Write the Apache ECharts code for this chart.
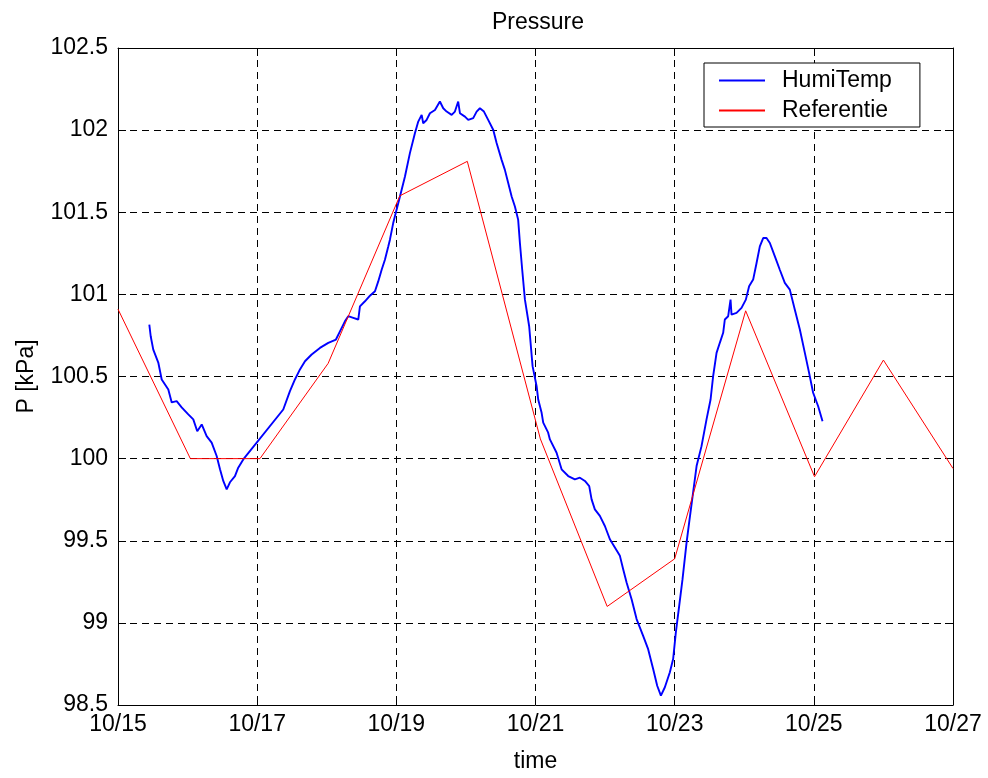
<!DOCTYPE html>
<html>
<head>
<meta charset="utf-8">
<title>Pressure</title>
<script src="https://cdn.jsdelivr.net/npm/echarts@6/dist/echarts.min.js"></script>
<style>
  html, body { margin: 0; padding: 0; background: #ffffff; }
  #chart { width: 988px; height: 778px; }
</style>
</head>
<body>
<div id="chart"></div>
<script>
// Time in days since 10/15, pressure in kPa
const xTickLabels = ['10/15', '10/17', '10/19', '10/21', '10/23', '10/25', '10/27'];

// HumiTemp sensor log
const humiTempDays = [
  0.450, 0.470, 0.507, 0.579, 0.628, 0.723, 0.772, 0.843, 0.915, 1.010,
  1.082, 1.139, 1.203, 1.274, 1.346, 1.418, 1.466, 1.513, 1.562, 1.609,
  1.681, 1.728, 1.800, 2.375, 2.471, 2.543, 2.615, 2.687, 2.783, 2.902,
  3.022, 3.132, 3.190, 3.261, 3.309, 3.381, 3.453, 3.477, 3.549, 3.621,
  3.693, 3.740, 3.789, 3.836, 3.884, 3.908, 3.955, 4.052, 4.124, 4.195,
  4.267, 4.315, 4.364, 4.386, 4.435, 4.483, 4.555, 4.626, 4.674, 4.723,
  4.795, 4.842, 4.889, 4.914, 4.986, 5.033, 5.105, 5.154, 5.201, 5.259,
  5.320, 5.392, 5.441, 5.513, 5.560, 5.608, 5.657, 5.704, 5.751, 5.776,
  5.809, 5.848, 5.909, 5.958, 6.016, 6.039, 6.088, 6.111, 6.182, 6.207,
  6.303, 6.375, 6.470, 6.566, 6.638, 6.710, 6.772, 6.806, 6.853, 6.925,
  6.997, 7.069, 7.141, 7.213, 7.260, 7.309, 7.381, 7.453, 7.547, 7.619,
  7.691, 7.749, 7.802, 7.859, 7.931, 7.978, 8.017, 8.065, 8.113, 8.171,
  8.208, 8.315, 8.386, 8.458, 8.516, 8.553, 8.602, 8.649, 8.697, 8.721,
  8.769, 8.803, 8.817, 8.889, 8.961, 9.023, 9.070, 9.128, 9.177, 9.224,
  9.272, 9.320, 9.368, 9.440, 9.511, 9.583, 9.655, 9.727, 9.799, 9.871,
  9.932, 9.990, 10.062, 10.125
];
const humiTempKpa = [
  100.816, 100.745, 100.664, 100.585, 100.482, 100.421, 100.342, 100.350, 100.312, 100.269,
  100.239, 100.167, 100.208, 100.137, 100.097, 100.016, 99.935, 99.864, 99.813, 99.856,
  99.894, 99.945, 99.995, 100.299, 100.411, 100.482, 100.543, 100.593, 100.634, 100.674,
  100.705, 100.725, 100.775, 100.836, 100.867, 100.857, 100.847, 100.927, 100.958, 100.992,
  101.019, 101.079, 101.150, 101.211, 101.292, 101.333, 101.434, 101.596, 101.718, 101.860,
  101.981, 102.052, 102.093, 102.042, 102.062, 102.103, 102.123, 102.174, 102.133, 102.113,
  102.093, 102.113, 102.174, 102.103, 102.082, 102.062, 102.073, 102.113, 102.133, 102.113,
  102.062, 102.002, 101.921, 101.819, 101.758, 101.678, 101.596, 101.535, 101.454, 101.313,
  101.150, 100.968, 100.806, 100.563, 100.441, 100.360, 100.279, 100.219, 100.158, 100.117,
  100.036, 99.935, 99.894, 99.874, 99.884, 99.864, 99.833, 99.752, 99.691, 99.651,
  99.590, 99.509, 99.459, 99.408, 99.327, 99.246, 99.144, 99.023, 98.921, 98.840,
  98.719, 98.617, 98.557, 98.608, 98.699, 98.780, 98.942, 99.104, 99.266, 99.489,
  99.611, 99.955, 100.076, 100.239, 100.360, 100.502, 100.644, 100.705, 100.766, 100.847,
  100.867, 100.968, 100.877, 100.887, 100.918, 100.968, 101.049, 101.090, 101.191, 101.292,
  101.343, 101.343, 101.313, 101.231, 101.150, 101.070, 101.029, 100.907, 100.786, 100.644,
  100.522, 100.401, 100.319, 100.228
];

// Reference station readings
const refDays = [0, 1.04, 2.04, 3.02, 4.05, 5.02, 6.07, 7.03, 8.00, 9.02, 10.01, 11.00, 12.00];
const refKpa = [100.91, 100.00, 100.00, 100.58, 101.60, 101.81, 100.12, 99.10, 99.39, 100.90, 99.89, 100.60, 99.94];

const zip = (xs, ys) => xs.map((x, i) => [x, ys[i]]);

const FONT = "'Liberation Sans', Arial, sans-serif";
const INK = '#000000';

const chart = echarts.init(document.getElementById('chart'), null, { renderer: 'canvas' });

// Box axes on top and right: line and inward ticks only
const frameAxisCommon = {
  type: 'value',
  axisLine: { show: true, onZero: false, lineStyle: { color: INK, width: 1 } },
  axisTick: { show: true, inside: true, length: 8, lineStyle: { color: INK, width: 1 } },
  axisLabel: { show: false },
  splitLine: { show: false }
};

chart.setOption({
  animation: false,
  backgroundColor: '#ffffff',
  textStyle: { fontFamily: FONT },
  title: {
    text: 'Pressure',
    left: 533,
    textAlign: 'center',
    top: 6,
    textStyle: { fontFamily: FONT, fontSize: 23, fontWeight: 'normal', color: INK }
  },
  grid: { left: 118, right: 35, top: 48, bottom: 72, containLabel: false },
  legend: {
    data: ['HumiTemp', 'Referentie'],
    orient: 'vertical',
    left: 704,
    top: 63,
    backgroundColor: '#ffffff',
    borderColor: INK,
    borderWidth: 1,
    borderRadius: 0,
    padding: [6, 28, 5, 15],
    itemGap: 7,
    icon: 'rect',
    itemWidth: 46,
    itemHeight: 2,
    textStyle: { fontFamily: FONT, fontSize: 23, color: INK, padding: [0, 0, 0, 12] }
  },
  xAxis: [
    {
      type: 'value',
      min: 0,
      max: 12,
      interval: 2,
      position: 'bottom',
      name: 'time',
      nameLocation: 'middle',
      nameGap: 45,
      nameTextStyle: { fontFamily: FONT, fontSize: 23, color: INK },
      axisLine: { show: true, onZero: false, lineStyle: { color: INK, width: 1 } },
      axisTick: { show: true, inside: true, length: 8, lineStyle: { color: INK, width: 1 } },
      axisLabel: {
        fontFamily: FONT, fontSize: 23, color: INK, margin: 8,
        formatter: v => xTickLabels[Math.round(v / 2)]
      },
      splitLine: { show: true, lineStyle: { color: INK, width: 1, type: [7, 5] } }
    },
    Object.assign({ min: 0, max: 12, interval: 2, position: 'top' }, frameAxisCommon)
  ],
  yAxis: [
    {
      type: 'value',
      min: 98.5,
      max: 102.5,
      interval: 0.5,
      position: 'left',
      name: 'P [kPa]',
      nameLocation: 'middle',
      nameRotate: 90,
      nameGap: 80,
      nameTextStyle: { fontFamily: FONT, fontSize: 23, color: INK },
      axisLine: { show: true, onZero: false, lineStyle: { color: INK, width: 1 } },
      axisTick: { show: true, inside: true, length: 8, lineStyle: { color: INK, width: 1 } },
      axisLabel: { fontFamily: FONT, fontSize: 23, color: INK, margin: 10 },
      splitLine: { show: true, lineStyle: { color: INK, width: 1, type: [7, 5] } }
    },
    Object.assign({ min: 98.5, max: 102.5, interval: 0.5, position: 'right' }, frameAxisCommon)
  ],
  series: [
    {
      name: 'HumiTemp',
      type: 'line',
      data: zip(humiTempDays, humiTempKpa),
      symbol: 'none',
      lineStyle: { color: '#0000ff', width: 1.9 },
      itemStyle: { color: '#0000ff' },
      z: 3
    },
    {
      name: 'Referentie',
      type: 'line',
      data: zip(refDays, refKpa),
      symbol: 'none',
      lineStyle: { color: '#ff0000', width: 1 },
      itemStyle: { color: '#ff0000' },
      z: 4
    }
  ]
});
</script>
</body>
</html>
